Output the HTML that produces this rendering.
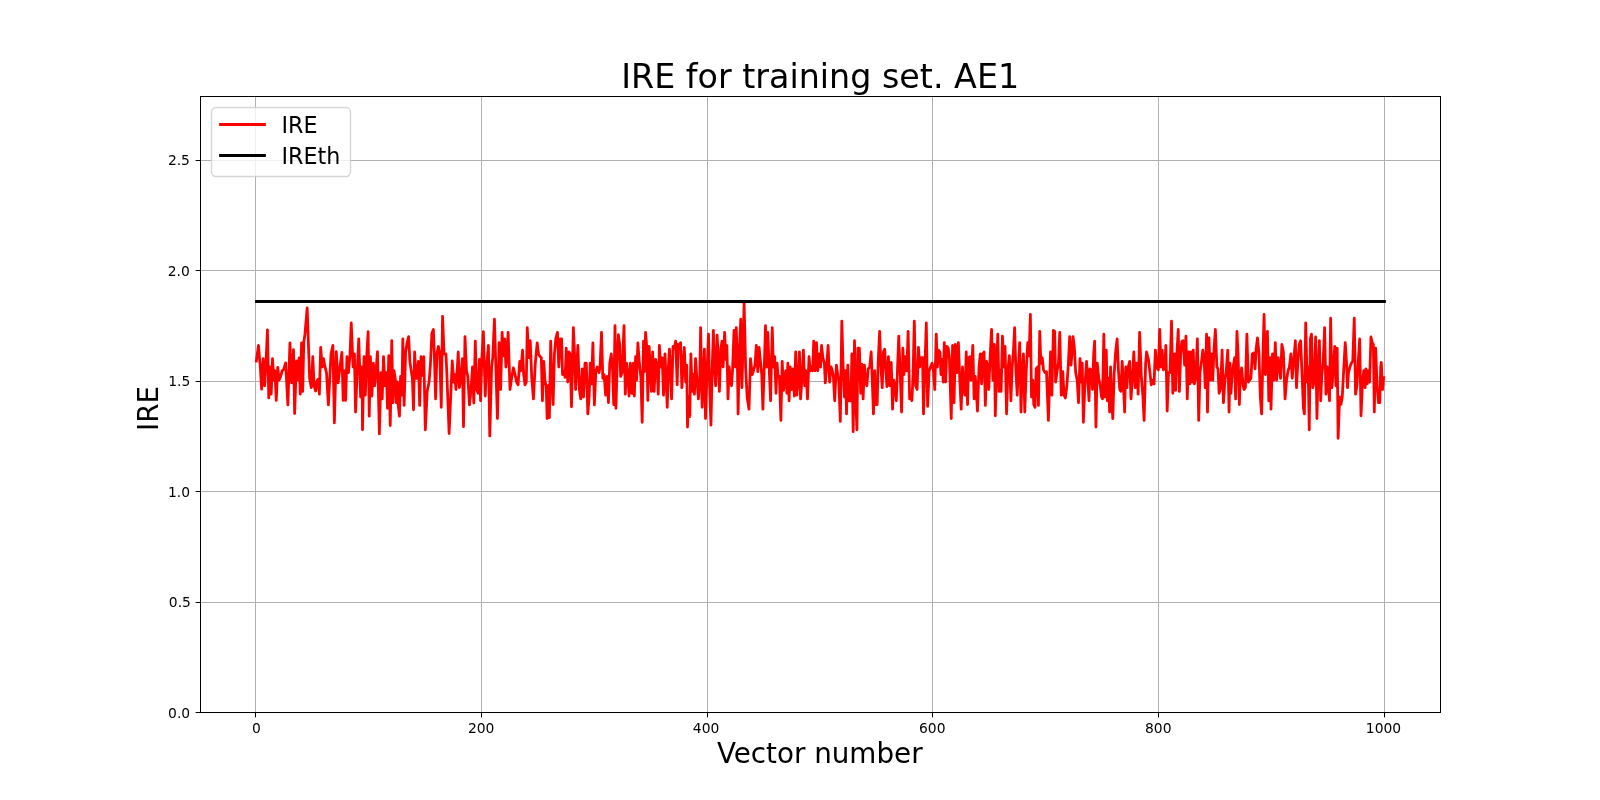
<!DOCTYPE html>
<html><head><meta charset="utf-8"><title>IRE for training set. AE1</title>
<style>html,body{margin:0;padding:0;background:#fff;width:1600px;height:800px;overflow:hidden}</style>
</head><body><div style="width:1600px;height:800px;will-change:transform">
<svg width="1600" height="800" viewBox="0 0 1600 800" style="display:block;font-family:'DejaVu Sans','Liberation Sans',sans-serif"><rect x="0" y="0" width="1600" height="800" fill="#fff"/>
<path d="M255.5 96V712M481.5 96V712M707.5 96V712M932.5 96V712M1158.5 96V712M1384.5 96V712M200 602.5H1440M200 491.5H1440M200 381.5H1440M200 270.5H1440M200 160.5H1440" stroke="#b0b0b0" stroke-width="1" fill="none" shape-rendering="crispEdges"/>
<path d="M256.36 361.00 258.44 345.44 260.31 367.00 261.62 389.12 263.12 358.56 264.62 385.75 265.94 363.25 267.44 329.88 268.75 397.94 270.06 367.00 271.19 394.19 272.50 358.56 273.81 380.12 274.94 370.75 276.25 400.38 277.75 367.38 279.06 380.12 280.56 376.38 282.25 370.75 283.75 369.25 285.62 362.88 287.88 404.88 289.94 343.00 291.62 382.94 293.50 349.56 294.62 413.50 296.50 361.00 297.81 380.12 299.12 358.00 300.25 394.19 301.56 343.00 302.69 391.38 303.81 341.69 304.94 334.19 307.19 307.94 309.62 378.62 311.31 387.62 312.81 356.69 314.12 385.75 315.62 391.00 316.94 381.06 318.06 379.19 319.38 394.19 320.69 347.31 322.19 367.00 323.50 358.56 324.62 365.12 326.50 372.62 328.38 404.88 329.69 380.12 331.00 353.88 332.88 345.44 334.38 422.88 336.25 351.62 338.12 382.94 340.00 367.00 341.88 352.38 343.19 400.38 344.50 370.75 345.62 400.38 346.94 356.69 348.44 372.62 349.94 355.75 351.25 322.94 353.12 367.00 354.44 353.88 355.56 412.00 357.25 370.75 358.75 338.88 360.62 397.00 362.12 367.00 362.50 429.81 364.00 356.69 365.31 395.12 366.62 357.62 368.12 331.75 369.25 416.12 370.38 356.69 371.88 396.06 373.38 363.25 374.69 385.75 376.00 370.75 377.50 351.62 379.38 433.94 380.88 372.62 382.19 398.88 383.50 356.69 385.00 385.75 386.50 372.62 387.44 408.25 388.75 355.75 390.25 425.50 391.75 340.75 392.88 402.62 394.00 370.75 395.31 379.19 396.25 402.62 397.56 382.00 398.12 404.50 399.44 416.12 400.56 376.38 401.88 395.12 402.81 338.88 404.12 405.44 405.62 352.00 407.12 342.62 408.62 336.62 409.94 362.31 411.25 370.75 412.38 378.25 413.50 409.75 414.62 352.00 415.94 378.25 416.88 378.25 418.38 361.38 419.69 405.44 421.00 356.69 422.50 375.44 423.81 356.69 425.31 429.81 427.19 391.38 429.06 382.00 430.38 365.12 431.88 333.25 433.38 329.50 434.31 353.88 435.62 398.88 436.94 353.88 438.44 346.38 439.75 353.88 441.25 407.31 442.56 316.38 444.06 353.88 445.94 353.88 446.88 374.50 449.12 433.56 452.25 361.00 453.75 382.00 454.69 374.50 456.00 389.50 458.25 352.00 459.38 387.62 460.69 380.12 462.38 358.56 463.50 426.62 465.00 336.62 466.50 370.75 467.81 376.38 469.50 404.88 471.00 389.50 472.50 367.00 473.81 403.00 475.31 341.12 476.62 389.50 478.12 393.25 479.44 359.50 480.56 400.75 481.88 357.62 483.38 331.75 485.25 396.06 486.56 367.00 488.44 345.44 489.75 436.00 491.62 367.00 492.75 357.62 494.44 319.19 495.94 370.75 497.44 418.56 499.12 342.62 500.62 389.50 502.12 332.31 503.44 355.75 504.75 338.88 505.88 367.00 506.81 358.56 508.12 332.31 510.00 389.50 511.88 376.38 513.38 367.94 515.06 374.50 516.56 382.00 518.06 384.81 519.75 361.38 520.88 370.75 522.56 350.12 523.69 374.50 525.00 384.81 526.31 382.00 527.25 327.62 528.75 357.62 530.25 340.75 531.75 378.25 533.44 398.88 535.31 363.25 537.19 343.00 538.50 353.88 540.00 356.69 541.31 357.62 542.44 400.75 543.75 361.38 545.06 382.00 546.19 385.75 547.12 418.56 548.44 385.75 549.38 417.62 550.69 341.12 551.81 378.25 553.12 404.50 554.44 353.88 555.75 338.88 557.44 332.31 558.75 367.00 560.25 338.88 561.56 338.88 562.50 374.50 563.44 370.75 565.12 377.31 566.25 348.25 567.75 382.00 569.06 352.00 570.00 353.88 571.50 406.75 572.25 374.50 573.38 327.62 574.69 357.62 575.62 389.50 576.75 367.00 577.88 345.44 579.38 389.50 580.69 398.88 582.19 368.88 583.50 397.00 585.00 363.25 586.31 363.25 587.81 413.88 589.12 397.00 590.25 363.25 591.56 383.88 592.88 343.00 594.38 404.88 595.88 370.75 597.19 367.00 599.06 372.62 600.00 367.00 601.50 332.31 602.81 378.25 604.12 374.50 605.62 395.12 607.12 376.38 608.44 402.62 609.75 363.25 611.25 353.88 612.56 368.88 613.69 404.50 615.00 325.75 615.94 408.25 617.25 361.38 618.38 334.75 619.69 344.50 620.62 376.38 622.12 372.62 624.00 325.75 625.31 394.19 626.62 363.25 627.75 372.62 629.06 396.06 630.38 363.25 631.88 393.25 633.38 363.25 634.31 396.06 635.62 356.69 636.56 380.12 637.88 343.00 639.38 363.25 640.88 377.31 642.19 422.31 643.50 341.12 644.44 371.69 645.56 332.31 646.88 348.25 647.81 400.38 649.12 346.38 651.50 391.38 652.62 352.00 654.12 391.38 655.62 359.50 657.12 367.00 658.25 394.19 659.38 345.44 660.69 367.00 662.19 357.62 663.50 395.12 665.00 353.88 666.50 389.50 667.25 407.31 668.38 367.00 669.50 349.19 670.62 376.38 671.56 398.88 673.06 346.38 674.38 348.25 675.69 341.12 677.19 384.81 678.12 344.50 679.44 348.25 680.56 342.62 681.88 387.62 683.19 363.25 684.31 347.31 685.62 382.00 686.75 365.12 687.50 427.00 688.62 397.00 689.75 416.69 690.88 353.88 692.19 391.38 693.12 374.50 694.44 394.19 695.56 358.56 696.88 378.25 698.38 398.88 699.69 382.00 700.62 327.62 702.12 407.31 703.06 385.75 704.38 349.19 705.50 418.56 707.00 372.62 708.50 334.19 709.62 385.75 710.94 425.12 712.25 367.00 713.38 330.44 714.69 370.75 715.62 385.75 717.12 335.12 718.06 353.88 719.38 391.38 720.88 348.25 722.00 341.12 723.12 367.00 724.62 332.31 725.94 359.50 726.88 345.44 728.00 398.88 729.12 367.00 730.62 380.12 731.56 385.75 732.50 370.75 734.00 330.44 735.31 367.00 736.25 327.62 737.38 363.25 738.12 413.88 739.44 348.25 740.75 319.19 741.88 387.62 742.81 353.88 744.12 303.25 745.62 367.00 747.12 397.00 749.00 409.19 750.50 358.56 752.19 374.50 753.50 370.75 755.00 365.12 756.31 345.44 757.81 371.69 759.12 347.31 760.62 363.25 761.75 374.50 762.88 409.19 764.38 363.25 765.50 325.75 766.62 367.00 767.75 332.31 769.06 365.12 770.56 400.75 772.25 327.62 773.38 367.00 774.69 356.69 776.00 393.25 777.12 363.25 778.06 376.38 779.38 376.38 780.88 420.44 782.19 361.38 783.50 390.44 784.62 376.38 785.75 370.75 786.88 393.25 787.81 363.25 789.12 400.75 790.25 367.00 791.56 389.50 792.88 368.88 794.38 396.06 795.69 352.00 796.81 395.12 798.12 380.12 799.44 352.00 800.56 398.88 801.88 380.12 803.38 350.12 804.69 385.75 806.00 370.75 807.50 398.88 809.00 356.69 810.31 370.75 811.62 367.00 812.75 370.75 813.69 341.12 815.00 370.75 816.50 342.62 817.81 370.75 819.12 353.88 820.62 367.00 821.56 345.44 822.88 357.62 824.38 363.25 825.31 382.94 826.62 367.00 828.12 345.44 829.62 382.00 831.12 367.00 832.25 370.75 833.38 376.38 834.69 400.75 836.38 365.12 837.50 372.62 838.81 381.06 840.31 421.38 841.81 321.06 843.12 367.00 844.44 397.00 845.56 370.75 846.50 413.88 847.81 365.12 849.12 400.75 850.94 400.75 851.88 353.88 853.19 431.69 854.50 340.75 855.62 397.00 856.94 429.81 857.88 348.25 859.38 348.25 860.69 393.25 861.81 364.19 863.12 398.88 864.44 365.12 865.56 382.00 866.88 385.75 868.19 368.88 869.69 367.00 871.19 352.00 872.12 376.38 873.44 413.88 874.75 370.75 875.88 404.50 877.19 404.50 878.12 363.25 879.62 331.38 880.94 367.00 882.25 387.62 883.38 352.00 884.69 349.19 885.62 367.00 886.94 386.69 888.44 356.69 889.75 385.75 891.25 362.31 892.56 409.19 893.69 380.12 895.00 385.75 896.31 400.75 897.44 370.75 898.75 336.06 900.25 374.50 901.56 412.00 902.88 348.25 904.00 374.50 905.31 356.69 906.81 370.75 908.12 331.38 909.62 398.88 910.94 396.06 911.88 400.75 913.00 376.38 914.31 321.06 915.62 385.75 917.12 389.50 918.44 347.31 919.75 367.00 921.25 357.62 922.56 357.62 923.50 413.88 925.00 363.25 926.31 322.94 927.62 406.38 929.12 370.75 930.62 367.00 932.12 363.25 933.44 370.75 934.75 389.50 936.25 334.19 937.38 367.00 938.50 350.12 940.00 352.00 940.94 374.50 942.25 359.50 943.19 382.00 944.31 342.62 945.62 382.00 946.94 346.38 948.25 348.25 949.38 357.62 951.25 418.56 952.56 345.44 954.06 402.62 955.38 344.50 956.88 372.62 958.38 342.62 959.88 382.00 961.19 409.19 962.50 367.00 963.81 389.50 964.94 395.12 966.25 352.00 967.56 404.50 968.69 357.62 970.00 356.69 970.94 380.12 972.81 345.44 974.12 398.88 975.25 376.38 976.00 385.75 977.50 411.06 979.00 367.00 980.31 353.88 981.62 383.88 982.75 353.88 984.06 352.00 985.38 405.44 986.50 361.38 987.81 367.00 988.75 389.50 990.25 353.88 991.56 329.50 992.88 380.12 994.38 344.50 995.31 415.75 996.62 367.00 997.75 334.19 999.06 391.38 1000.00 370.75 1001.12 391.38 1002.44 336.06 1003.75 367.00 1005.06 346.38 1006.56 413.88 1007.88 370.75 1009.38 355.75 1010.88 400.75 1012.19 367.00 1013.50 350.12 1014.62 327.62 1015.94 371.69 1017.25 395.12 1018.38 367.00 1019.69 342.62 1021.00 412.00 1022.12 372.62 1023.44 353.88 1024.75 412.00 1026.25 370.75 1027.75 342.62 1029.06 355.75 1030.38 314.50 1031.50 397.00 1032.81 380.12 1033.75 404.50 1035.06 407.31 1036.19 368.88 1037.50 367.00 1038.44 405.44 1039.75 331.38 1040.88 363.25 1042.19 357.62 1043.50 369.81 1045.00 372.62 1046.50 371.69 1048.38 420.44 1050.56 352.00 1051.88 395.12 1053.38 330.44 1054.69 331.38 1055.62 382.00 1057.12 370.75 1058.44 363.25 1059.75 332.31 1061.25 395.12 1062.75 371.69 1064.06 395.12 1065.38 397.94 1066.88 385.75 1068.19 367.00 1069.69 336.62 1071.00 365.12 1071.94 353.88 1073.06 336.62 1074.38 348.25 1075.69 372.62 1077.19 380.12 1078.50 402.62 1080.00 358.56 1081.31 382.00 1082.25 363.25 1083.38 422.31 1084.69 389.50 1086.56 361.38 1087.88 380.12 1089.00 400.75 1089.94 368.88 1091.25 369.81 1092.56 389.50 1093.69 353.88 1094.62 341.12 1095.94 427.00 1097.25 363.25 1098.75 378.25 1100.25 385.75 1101.56 397.00 1102.50 398.88 1103.81 334.19 1104.94 397.00 1106.25 350.12 1107.38 400.75 1108.50 378.25 1109.62 412.00 1110.56 367.00 1111.50 397.00 1112.81 418.56 1114.12 374.50 1115.62 352.00 1117.12 338.88 1118.44 370.75 1119.75 389.50 1120.88 391.38 1122.19 361.38 1123.50 385.75 1124.62 412.00 1125.75 367.00 1126.88 387.62 1128.00 367.94 1129.69 361.38 1131.00 398.88 1132.50 378.25 1133.81 352.00 1135.31 387.62 1136.81 363.25 1138.12 394.19 1139.62 332.31 1141.31 376.38 1142.81 395.12 1144.12 420.44 1145.62 363.25 1146.56 352.00 1148.44 359.50 1149.75 370.75 1151.25 384.81 1152.56 380.12 1154.06 383.88 1155.38 350.12 1156.88 367.94 1158.38 369.81 1159.69 329.50 1161.00 367.00 1162.12 350.12 1163.44 369.81 1164.75 366.06 1165.88 345.44 1167.19 411.06 1168.50 372.62 1170.00 372.62 1171.50 321.06 1172.81 393.25 1173.75 367.00 1174.69 353.88 1175.62 390.44 1176.75 355.75 1178.25 329.50 1179.38 391.38 1180.69 353.88 1181.81 341.69 1183.12 340.75 1184.62 365.12 1185.94 336.06 1187.25 398.88 1188.75 352.00 1189.88 383.88 1191.19 352.00 1192.12 382.00 1193.25 350.12 1194.38 383.88 1195.88 376.38 1197.38 338.88 1198.69 420.44 1200.00 372.62 1201.50 361.38 1202.81 350.12 1204.12 359.50 1205.25 387.62 1206.56 334.19 1207.50 412.00 1209.00 337.94 1210.31 380.12 1211.62 353.88 1212.75 380.12 1214.06 348.25 1215.38 329.50 1216.88 367.00 1218.00 368.88 1219.12 393.25 1220.62 387.62 1222.12 350.12 1223.44 402.62 1224.94 380.12 1226.25 370.75 1227.75 350.12 1229.06 412.00 1230.00 363.25 1230.94 393.25 1232.25 374.50 1233.38 365.12 1234.69 357.62 1235.62 398.88 1236.94 331.38 1238.06 353.88 1239.38 404.50 1240.31 376.38 1241.62 367.94 1243.12 385.75 1244.06 389.50 1245.38 387.62 1246.88 334.19 1248.38 382.00 1250.94 378.25 1252.25 353.88 1253.75 352.94 1255.06 368.88 1256.19 348.25 1257.50 337.94 1259.00 353.88 1260.31 397.00 1261.62 413.88 1263.12 348.25 1264.06 314.50 1265.38 374.50 1266.50 350.12 1267.44 331.38 1268.75 400.75 1270.25 357.62 1271.00 409.19 1272.50 353.88 1273.81 380.12 1275.31 342.62 1276.62 380.12 1278.12 357.62 1279.44 367.00 1280.56 378.25 1281.88 344.50 1283.38 352.00 1285.06 398.88 1286.56 380.12 1288.06 370.75 1289.38 367.00 1290.88 353.88 1292.19 378.25 1293.50 363.25 1295.38 340.75 1296.50 387.62 1297.81 363.25 1299.31 344.50 1300.62 340.75 1302.12 376.38 1303.44 408.25 1304.38 413.88 1305.69 322.94 1307.19 382.00 1308.12 367.00 1309.25 429.81 1310.38 338.88 1311.50 334.19 1312.81 387.62 1314.31 380.12 1315.62 337.00 1316.94 418.56 1318.06 370.75 1319.38 340.75 1320.69 400.75 1321.81 374.50 1323.12 363.25 1324.62 327.62 1325.94 394.19 1327.25 367.00 1328.38 385.75 1329.50 400.75 1330.62 318.25 1331.94 387.62 1333.44 367.00 1334.75 346.38 1335.88 385.75 1337.19 348.25 1338.12 438.25 1339.62 397.00 1340.94 404.50 1342.25 397.00 1343.75 368.88 1345.25 342.62 1346.56 363.25 1347.50 387.62 1348.44 372.62 1349.94 367.00 1351.25 363.25 1352.75 361.38 1354.25 318.25 1355.56 394.19 1356.88 385.75 1358.38 359.50 1359.69 338.88 1361.00 415.75 1362.50 382.00 1363.81 370.75 1365.12 387.62 1365.88 368.88 1367.19 383.88 1368.50 370.75 1369.62 382.00 1370.94 337.00 1372.25 342.62 1373.38 344.50 1374.31 412.00 1375.62 348.25 1377.12 385.75 1378.44 402.62 1379.75 402.62 1380.69 367.00 1381.30 362.50 1382.60 389.50 1383.64 377.50" stroke="#ff0000" stroke-width="2.78" fill="none" stroke-linejoin="round" stroke-linecap="square"/>
<path d="M256.5 301.50H1384.5" stroke="#000" stroke-width="2.78" fill="none" stroke-linecap="square"/>
<path d="M200.5 96V713M1440.5 96V713M200 96.5H1441M200 712.5H1441" stroke="#000" stroke-width="1" fill="none" shape-rendering="crispEdges"/>
<path d="M255.5 713V717.4M481.5 713V717.4M707.5 713V717.4M932.5 713V717.4M1158.5 713V717.4M1384.5 713V717.4M195.6 712.5H200M195.6 602.5H200M195.6 491.5H200M195.6 381.5H200M195.6 270.5H200M195.6 160.5H200" stroke="#000" stroke-width="1" fill="none"/>
<rect x="211.5" y="107.5" width="139" height="69" rx="4.44" fill="#fff" fill-opacity="0.8" stroke="#cccccc" stroke-opacity="0.8" stroke-width="1.39"/>
<path d="M220.5 124.5H264.5" stroke="#ff0000" stroke-width="2.78" stroke-linecap="square"/>
<path d="M220.5 155.5H264.5" stroke="#000" stroke-width="2.78" stroke-linecap="square"/>
<text x="256.30" y="733.04" font-size="13.889" text-anchor="middle">0</text>
<text x="481.15" y="733.23" font-size="13.889" text-anchor="middle">200</text>
<text x="706.07" y="733.14" font-size="13.889" text-anchor="middle">400</text>
<text x="932.28" y="733.10" font-size="13.889" text-anchor="middle">600</text>
<text x="1158.23" y="733.03" font-size="13.889" text-anchor="middle">800</text>
<text x="1383.50" y="733.01" font-size="13.889" text-anchor="middle">1000</text>
<text x="190.16" y="718.04" font-size="13.889" text-anchor="end">0.0</text>
<text x="190.95" y="607.10" font-size="13.889" text-anchor="end">0.5</text>
<text x="189.97" y="497.10" font-size="13.889" text-anchor="end">1.0</text>
<text x="190.23" y="386.06" font-size="13.889" text-anchor="end">1.5</text>
<text x="189.89" y="276.07" font-size="13.889" text-anchor="end">2.0</text>
<text x="189.96" y="165.20" font-size="13.889" text-anchor="end">2.5</text>
<text x="819.72" y="763.03" font-size="27.778" text-anchor="middle">Vector number</text>
<text x="158.25" y="408.47" font-size="27.778" text-anchor="middle" transform="rotate(-90 158.25 408.47)">IRE</text>
<text x="820.19" y="88.00" font-size="33.333" text-anchor="middle">IRE for training set. AE1</text>
<text x="281.47" y="133.13" font-size="22.222">IRE</text>
<text x="281.47" y="164.19" font-size="22.222">IREth</text></svg>
</div></body></html>
